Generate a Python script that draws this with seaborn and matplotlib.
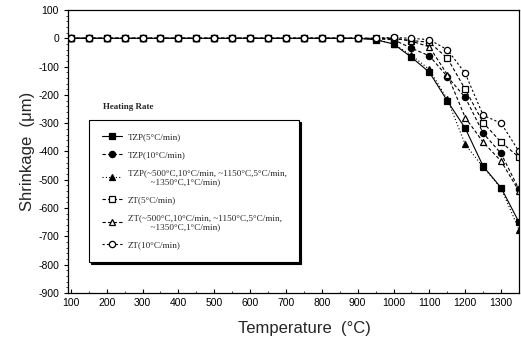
import matplotlib
matplotlib.use("Agg")
import matplotlib.pyplot as plt
import seaborn as sns
import pandas as pd

# ---- data ----
temperature = [100, 150, 200, 250, 300, 350, 400, 450, 500, 550, 600, 650, 700, 750,
               800, 850, 900, 950, 1000, 1050, 1100, 1150, 1200, 1250, 1300, 1350]

tzp_5 = [0, 0, 0, 0, 0, 0, 0, 0, 0, 0, 0, 0, 0, 0, 0, 0, 0, -5,
         -20, -67, -120, -221, -318, -452, -528, -650]
tzp_10 = [0, 0, 0, 0, 0, 0, 0, 0, 0, 0, 0, 0, 0, 0, 0, 0, 0, -2,
          -5, -35, -62, -135, -209, -335, -407, -534]
tzp_step = [0, 0, 0, 0, 0, 0, 0, 0, 0, 0, 0, 0, 0, 0, 0, 0, 0, -4,
            -20, -60, -110, -215, -375, -455, -530, -676]
zt_5 = [0, 0, 0, 0, 0, 0, 0, 0, 0, 0, 0, 0, 0, 0, 0, 0, 0, 0,
        0, -8, -14, -70, -180, -298, -367, -420]
zt_step = [0, 0, 0, 0, 0, 0, 0, 0, 0, 0, 0, 0, 0, 0, 0, 0, 0, 0,
           0, -10, -30, -128, -280, -367, -434, -540]
zt_10 = [0, 0, 0, 0, 0, 0, 0, 0, 0, 0, 0, 0, 0, 0, 0, 0, 0, 0,
         3, 0, -5, -40, -124, -272, -300, -400]

labels = [
    "TZP(5°C/min)",
    "TZP(10°C/min)",
    "TZP(~500°C,10°C/min, ~1150°C,5°C/min,\n          ~1350°C,1°C/min)",
    "ZT(5°C/min)",
    "ZT(~500°C,10°C/min, ~1150°C,5°C/min,\n          ~1350°C,1°C/min)",
    "ZT(10°C/min)",
]
series = [tzp_5, tzp_10, tzp_step, zt_5, zt_step, zt_10]
markers = ["s", "o", "^", "s", "^", "o"]
fills = ["black", "black", "black", "white", "white", "white"]
styles = ["-", (0, (3, 2)), (0, (1, 2)), (0, (3, 2)), (0, (3, 2)), (0, (2, 2))]

sns.set_style("ticks")
plt.rcParams["font.family"] = ["Liberation Sans", "DejaVu Sans"]
plt.rcParams["axes.unicode_minus"] = False

fig = plt.figure(figsize=(5.21, 3.48), dpi=100)
ax = fig.add_axes([68 / 521, 1 - 293 / 348, 451 / 521, 283 / 348])

for vals, lab, mk, fc, ls in zip(series, labels, markers, fills, styles):
    df = pd.DataFrame({"T": temperature, "S": vals})
    sns.lineplot(data=df, x="T", y="S", ax=ax, color="black", linewidth=0.8,
                 linestyle=ls, marker=mk, markersize=4.5, markerfacecolor=fc,
                 markeredgecolor="black", markeredgewidth=0.9, label=lab)

ax.set_xlim(92, 1350)
ax.set_ylim(-900, 100)
ax.set_xticks(range(100, 1301, 100))
ax.set_yticks(range(-900, 101, 100))
ax.set_xticks(range(150, 1351, 100), minor=True)
ax.set_yticks(range(-880, 100, 20), minor=True)
ax.tick_params(axis="both", which="major", labelsize=7.5, length=3, width=0.8,
               color="black", labelcolor="black")
ax.tick_params(axis="x", which="both", direction="in")
ax.tick_params(axis="y", which="both", direction="out")
ax.tick_params(axis="both", which="minor", length=1.5, width=0.6)
for sp in ax.spines.values():
    sp.set_visible(True)
    sp.set_color("black")
    sp.set_linewidth(0.9)

ax.set_xlabel("Temperature  (°C)", fontsize=12, labelpad=8)
ax.xaxis.set_label_coords(0.525, -0.10)
ax.set_ylabel("Shrinkage  (μm)", fontsize=12, labelpad=2)

leg = ax.legend(loc="upper left", bbox_to_anchor=(0.047, 0.611), borderaxespad=0,
                frameon=True, fancybox=False, edgecolor="black",
                shadow={"color": "black", "alpha": 1.0, "ox": 1.2, "oy": -1.2},
                prop={"family": ["Liberation Serif", "DejaVu Serif"], "size": 6.6},
                handlelength=2.2, handletextpad=0.6, labelspacing=1.05,
                borderpad=1.4)
leg.get_frame().set_linewidth(0.8)
leg.get_frame().set_facecolor("white")

ax.text(0.078, 0.657, "Heating Rate", transform=ax.transAxes, fontsize=6.5,
        fontweight="bold", family=["Liberation Serif", "DejaVu Serif"],
        ha="left", va="center")

fig.savefig("out.png", dpi=100)
